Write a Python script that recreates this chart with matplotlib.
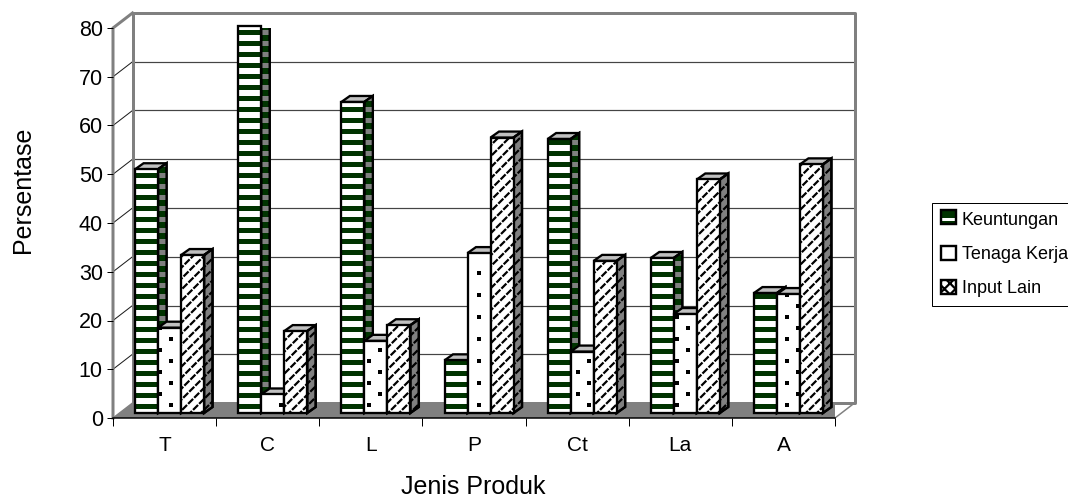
import numpy as np
import matplotlib
matplotlib.use("Agg")
import matplotlib.pyplot as plt
from matplotlib.collections import LineCollection
from matplotlib.patches import Polygon, Patch, Rectangle
from matplotlib.legend_handler import HandlerBase
from matplotlib.transforms import Affine2D, IdentityTransform

categories = ["T", "C", "L", "P", "Ct", "La", "A"]
keuntungan = [50, 79.3, 63.8, 10.8, 56.2, 31.8, 24.6]
tenaga_kerja = [17.5, 3.8, 14.8, 32.8, 12.6, 20.3, 24.4]
input_lain = [32.4, 16.8, 18, 56.5, 31.2, 47.9, 51]
series_names = ["Keuntungan", "Tenaga Kerja", "Input Lain"]
y_ticks = list(range(0, 90, 10))
x_label = "Jenis Produk"
y_label = "Persentase"

plt.rcParams["font.family"] = ["Liberation Sans", "DejaVu Sans"]
W, H = 1068, 500
GREEN = "#003300"
GRAY = "#808080"
LIGHT = "#c0c0c0"
px = 0.72  # points per pixel at dpi 100

fig = plt.figure(figsize=(W / 100, H / 100), dpi=100, facecolor="white")
L, R, B, T = 113, 835, 418, 28
ax = fig.add_axes([L / W, (H - B) / H, (R - L) / W, (B - T) / H])
ax.set_xlim(0, len(categories))
ax.set_ylim(0, 80)
ax.patch.set_visible(False)
ux = (R - L) / len(categories)   # pixels per category
uy = (B - T) / 80                # pixels per unit


def shifted(dx, dy):
    return ax.transData + Affine2D().translate(dx, dy)


# walls -------------------------------------------------------------------
BX, BY = 19.5, 15
back = shifted(BX, BY)
n = len(categories)
ax.add_patch(Polygon([(0, 0), (n, 0), (n + BX / ux, BY / uy), (BX / ux, BY / uy)],
                     closed=True, fc=GRAY, ec=GRAY, lw=1, zorder=1))
for v in y_ticks[1:-1]:
    ax.plot([0, n], [v, v], color="#444444", lw=1.2 * px, transform=back, zorder=1, clip_on=False)
    ax.plot([0, BX / ux], [v, v + BY / uy], color="#1a1a1a", lw=1 * px, zorder=1, clip_on=False)
ax.plot([BX / ux, 0, 0], [80 + BY / uy, 80, 0], color=GRAY, lw=3 * px, zorder=1.2, clip_on=False,
        solid_joinstyle="miter")
ax.plot([0, 0, n, n, 0], [0, 80, 80, 0, 0], color=GRAY, lw=3 * px, transform=back, zorder=1.1, clip_on=False)
ax.plot([n, n + BX / ux], [0, BY / uy], color=GRAY, lw=1.5 * px, zorder=1.2, clip_on=False)


# fill patterns drawn in pixel space, clipped to each face ------------------
def bbox_of(patch):
    return patch.get_path().transformed(patch.get_transform()).get_extents()


def stripes(patch, color, lw, z):
    e = bbox_of(patch)
    ys = np.arange(H - 406 - 11 * 40, H, 11)
    ys = ys[(ys > e.y0 - 6) & (ys < e.y1 + 6)]
    lc = LineCollection([[(e.x0 - 2, y), (e.x1 + 2, y)] for y in ys], colors=color, linewidths=lw * px,
                        transform=IdentityTransform(), zorder=z)
    ax.add_collection(lc, autolim=False)
    lc.set_clip_path(patch)


def diagonals(patch, color, lw, z):
    e = bbox_of(patch)
    h = e.y1 - e.y0
    segs = []
    for c in np.arange(-1100, 1200, 11.0):
        if e.x0 - h - 5 < c < e.x1 + 5:
            segs.append([(c, e.y0 - 3), (c + h + 6, e.y1 + 3)])
    lc = LineCollection(segs, colors=color, linewidths=lw * px, linestyles=[(0, (3.2, 0.7))],
                        transform=IdentityTransform(), zorder=z)
    ax.add_collection(lc, autolim=False)
    lc.set_clip_path(patch)


def dots(patch, color, z):
    e = bbox_of(patch)
    xs, ys = [], []
    for i in range(0, 90):
        for j in range(0, 40):
            if (i + j) % 2 == 0:
                x, y = 160 + 11 * i - 33, H - (405 - 11 * j)
                if e.x0 + 1 < x < e.x1 - 1 and e.y0 < y < e.y1:
                    xs.append(x)
                    ys.append(y)
    pts = ax.scatter(xs, ys, s=5, marker="s", c=color, linewidths=0, transform=IdentityTransform(), zorder=z)
    pts.set_clip_path(patch)


# bars -------------------------------------------------------------------
front = shifted(5, 5)
bw = 23 / ux
dx, dy = 8.5 / ux, 6 / uy
series = [keuntungan, tenaga_kerja, input_lain]
z = 2.0
EDGE = 2.3 * px
for c in range(n):
    for s, vals in enumerate(series):
        v = vals[c]
        x0 = c + 0.5 + (s - 1.5) * bw
        x1 = x0 + bw
        top = Polygon([(x0, v), (x1, v), (x1 + dx, v + dy), (x0 + dx, v + dy)], closed=True,
                      fc=LIGHT, ec="black", lw=EDGE, transform=front, zorder=z)
        side_col = {0: GREEN, 1: GRAY, 2: GRAY}[s]
        side = Polygon([(x1, 0), (x1 + dx, dy), (x1 + dx, v + dy), (x1, v)], closed=True,
                       fc=side_col, ec="black", lw=EDGE, transform=front, zorder=z + 0.03)
        ax.add_patch(top)
        ax.add_patch(side)
        if s == 0:
            stripes(side, GRAY, 5, z + 0.04)
        elif s == 1:
            dots(side, "black", z + 0.04)
        else:
            diagonals(side, "black", 2.2, z + 0.04)
        ax.add_patch(Polygon(side.get_xy(), closed=True, fc="none", ec="black", lw=EDGE,
                             transform=front, zorder=z + 0.05))
        rect = ax.bar([x0], [v], width=bw, align="edge", color="white", edgecolor="none",
                      transform=front, zorder=z + 0.06, clip_on=False)[0]
        if s == 0:
            stripes(rect, GREEN, 5, z + 0.07)
        elif s == 1:
            dots(rect, "black", z + 0.07)
        else:
            diagonals(rect, "black", 2.2, z + 0.07)
        ax.bar([x0], [v], width=bw, align="edge", color="none", edgecolor="black", linewidth=EDGE,
               transform=front, zorder=z + 0.08, clip_on=False)
        z += 0.1

# axes ---------------------------------------------------------------------
for name in ["top", "right", "left"]:
    ax.spines[name].set_visible(False)
ax.spines["bottom"].set_linewidth(1.5 * px)
ax.spines["bottom"].set_zorder(1.5)
ax.set_yticks(y_ticks)
ax.set_yticklabels([str(t) for t in y_ticks], fontsize=15.5)
ax.set_xticks(range(n + 1))
ax.set_xticklabels([])
ax.set_xticks(np.arange(n) + 0.5, minor=True)
ax.set_xticklabels(categories, minor=True, fontsize=15)
ax.tick_params(axis="y", length=6 * px, width=1 * px, pad=3)
ax.tick_params(axis="x", which="major", length=8 * px, width=1 * px)
ax.tick_params(axis="x", which="minor", length=0, pad=13)
fig.text(473 / W, 1 - 487 / H, x_label, ha="center", va="center", fontsize=18)
fig.text(23 / W, 1 - 190 / H, y_label, ha="center", va="center", rotation=90, fontsize=18)


# legend --------------------------------------------------------------------
class StripedKey(HandlerBase):
    def create_artists(self, legend, orig, xd, yd, width, height, fontsize, trans):
        return [Rectangle((xd, yd), width, height, fc=GREEN, ec="none", transform=trans),
                Rectangle((xd, yd + height * 0.25), width, height * 0.2, fc="white", ec="none", transform=trans),
                Rectangle((xd, yd), width, height, fc="none", ec="black", lw=2.4 * px, transform=trans)]


plt.rcParams["hatch.linewidth"] = 1.6
handles = [Patch(fc=GREEN, ec="black"),
           Patch(fc="white", ec="black", lw=2.4 * px),
           Patch(fc="white", ec="black", lw=2.4 * px, hatch="xxx")]
leg = fig.legend(handles, series_names, loc="center left", bbox_to_anchor=(932 / W, 1 - 254.5 / H),
                 bbox_transform=fig.transFigure, fontsize=13, frameon=True, fancybox=False,
                 edgecolor="black", framealpha=1, borderaxespad=0, handlelength=0.85, handleheight=0.8,
                 handletextpad=0.3, labelspacing=0.95, borderpad=0.5,
                 handler_map={handles[0]: StripedKey()})
leg.get_frame().set_linewidth(1 * px)

fig.savefig("out.png", dpi=100)
